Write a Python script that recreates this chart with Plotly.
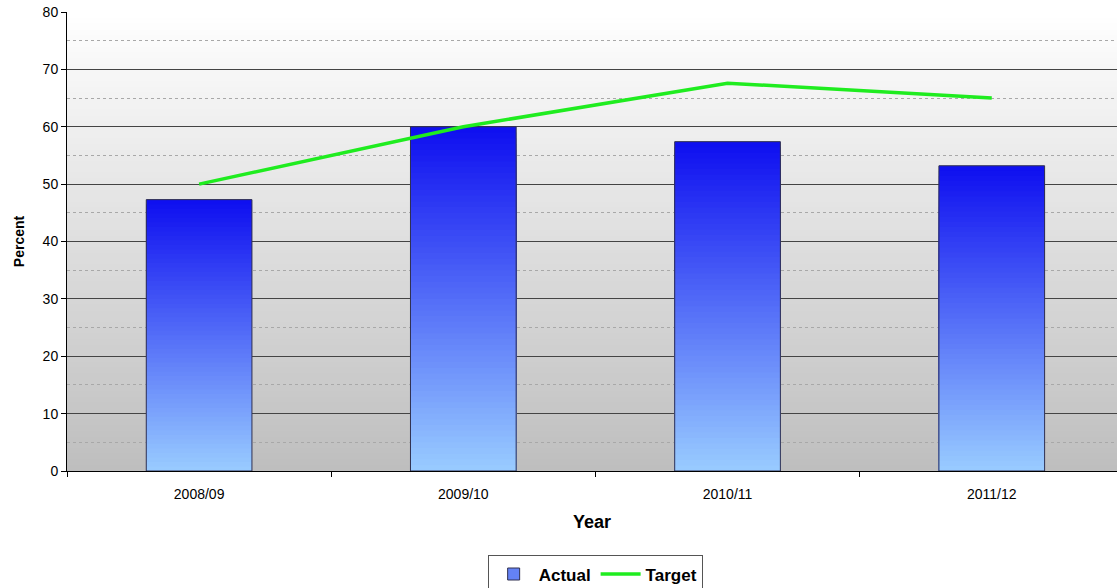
import plotly.graph_objects as go

# Data
years = ["2008/09", "2009/10", "2010/11", "2011/12"]
actual = [47.3, 60.0, 57.4, 53.2]
target = [50.0, 60.0, 67.6, 65.0]

y_ticks = [0, 10, 20, 30, 40, 50, 60, 70, 80]

# Gradient helpers
def mix(c0, c1, f):
    return "rgb({},{},{})".format(*[round(a + (b - a) * f) for a, b in zip(c0, c1)])

BAR_TOP = (14, 14, 240)
BAR_BOTTOM = (153, 204, 255)
BG_TOP = (255, 255, 255)
BG_BOTTOM = (190, 190, 190)

fig = go.Figure()

# Legend swatch for the actual series
fig.add_trace(go.Bar(
    x=[None], y=[None], name="Actual", showlegend=True,
    marker=dict(color="rgb(100,130,245)", line=dict(color="#303050", width=1)),
))

# Bars built as stacked slices that blend from light (base) to dark (top)
N = 60
for k in range(N):
    frac = (N - k) / N
    f_col = (N - k - 0.5) / N
    fig.add_trace(go.Bar(
        x=years, y=[v * frac for v in actual], width=0.4,
        marker=dict(color=mix(BAR_BOTTOM, BAR_TOP, f_col), line=dict(width=0)),
        showlegend=False, hoverinfo="skip",
    ))

# Outline of the full bars
fig.add_trace(go.Bar(
    x=years, y=actual, width=0.4, name="Actual", showlegend=False,
    marker=dict(color="rgba(0,0,0,0)", line=dict(color="#303050", width=1)),
))

fig.add_trace(go.Scatter(
    x=years, y=target, name="Target", mode="lines",
    line=dict(color="#1fec1f", width=3.5),
))

# Background fade from white at the top to grey at the base;
# each band runs up to the top so later bands overlap earlier ones
shapes = []
M = 80
for i in range(M):
    y0 = 80 * i / M
    f = 1 - (i + 0.5) / M
    shapes.append(dict(
        type="rect", xref="paper", yref="y", x0=0, x1=1, y0=y0, y1=80,
        fillcolor=mix(BG_TOP, BG_BOTTOM, f), line=dict(width=0), layer="below",
    ))

fig.update_layout(
    width=1117, height=588,
    margin=dict(l=67, r=0, t=12, b=117, autoexpand=False),
    barmode="overlay",
    bargap=0.6,
    paper_bgcolor="white",
    plot_bgcolor="white",
    shapes=shapes,
    font=dict(family="Arial, Liberation Sans, sans-serif", color="black", size=14),
    legend=dict(
        orientation="h", x=0.503, xanchor="center", y=-0.184, yanchor="top",
        bordercolor="#555555", borderwidth=1, bgcolor="white",
        font=dict(size=17, family="Arial, Liberation Sans, sans-serif", weight="bold"),
        itemwidth=40, traceorder="normal",
    ),
    xaxis=dict(
        type="category", categoryorder="array", categoryarray=years,
        range=[-0.5, 3.474], automargin=False,
        showgrid=False, showline=True, linecolor="black", linewidth=1,
        ticks="outside", tickson="boundaries", ticklen=5, tickcolor="black",
        ticklabelstandoff=10, tickfont=dict(size=14),
        title=dict(text="Year", font=dict(size=18, weight="bold"), standoff=14),
        zeroline=False,
    ),
    yaxis=dict(
        range=[0, 80], tickvals=y_ticks, automargin=False,
        showgrid=True, gridcolor="#444444", gridwidth=1,
        showline=True, linecolor="black", linewidth=1,
        ticks="outside", ticklen=5, tickcolor="black", tickfont=dict(size=14),
        zeroline=False,
        minor=dict(dtick=5, showgrid=True, gridcolor="#a8a8a8", griddash="3px,3px", gridwidth=1, ticks=""),
        title=dict(text="Percent", font=dict(size=14, weight="bold"), standoff=14),
    ),
)

fig.write_html("out.html")
